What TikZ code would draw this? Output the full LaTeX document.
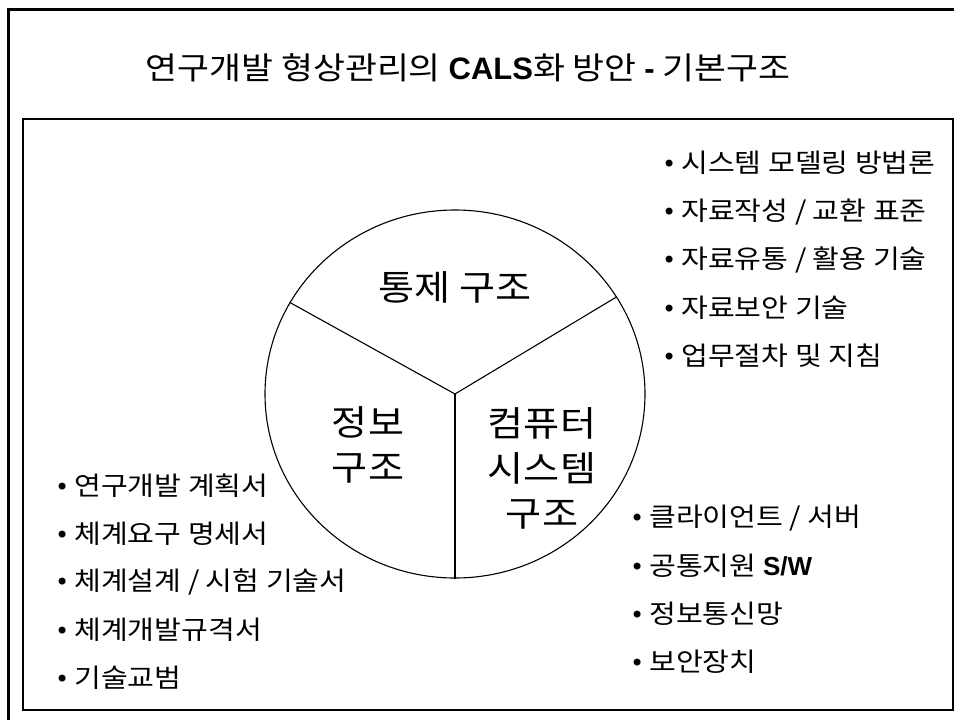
\documentclass[tikz,border=0pt]{standalone}
\usepackage{fontspec}
\setmainfont{Noto Sans CJK KR}[FakeStretch=1.12]
\newfontfamily\latfont{Liberation Sans}
\newfontfamily\dvfont{DejaVu Sans}
\usetikzlibrary{shapes.geometric}
\newcommand{\bul}{{\dvfont\fontsize{24}{24}\selectfont •}\hspace{5pt}}
\begin{document}
\begin{tikzpicture}[x=1pt,y=-1pt,
  item/.style={anchor=west, inner sep=0pt, font=\fontsize{26}{26}\selectfont},
  lbl/.style={align=center, inner sep=0pt, font=\fontsize{35}{45}\selectfont},
  frame/.style={draw=black, line width=3pt},
  inbox/.style={draw=black, line width=1.8pt},
  pie/.style={draw=black, line width=1.1pt}]
\clip (0,0) rectangle (954,720);
\fill[white] (0,0) rectangle (954,720);
% frames
\draw[frame] (8,9) rectangle (970,740);
\draw[inbox] (23,119) rectangle (953,710);
% title
\node[inner sep=0pt, font=\fontsize{31}{31}\selectfont] (title) at (468,68)
  {연구개발 형상관리의 {\latfont\bfseries CALS}화 방안 {\latfont\bfseries -} 기본구조};
% circle
\node[pie, ellipse, minimum width=380pt, minimum height=368pt, inner sep=0pt] (c) at (455,394) {};
\draw[pie] (c.center) -- (c.151);
\draw[pie] (c.center) -- (c.31);
\draw[pie] (c.center) -- (c.270);
\node[lbl] (l1) at (455,287) {통제 구조};
\node[lbl] (l2) at (368,445) {정보\\구조};
\node[lbl] (l3) at (542,468) {컴퓨터\\시스템\\구조};
% right top list
\node[item] (r1) at (662,163) {\bul 시스템 모델링 방법론};
\node[item] (r2) at (662,212) {\bul 자료작성 / 교환 표준};
\node[item] (r3) at (662,260) {\bul 자료유통 / 활용 기술};
\node[item] (r4) at (662,308) {\bul 자료보안 기술};
\node[item] (r5) at (662,356) {\bul 업무절차 및 지침};
% left list
\node[item] (a1) at (55,486) {\bul 연구개발 계획서};
\node[item] (a2) at (55,534) {\bul 체계요구 명세서};
\node[item] (a3) at (55,582) {\bul 체계설계 / 시험 기술서};
\node[item] (a4) at (55,630) {\bul 체계개발규격서};
\node[item] (a5) at (55,678) {\bul 기술교범};
% right bottom list
\node[item] (b1) at (630,518) {\bul 클라이언트 / 서버};
\node[item] (b2) at (630,566) {\bul 공통지원 {\latfont\bfseries S/W}};
\node[item] (b3) at (630,614) {\bul 정보통신망};
\node[item] (b4) at (630,662) {\bul 보안장치};
\end{tikzpicture}
\end{document}
